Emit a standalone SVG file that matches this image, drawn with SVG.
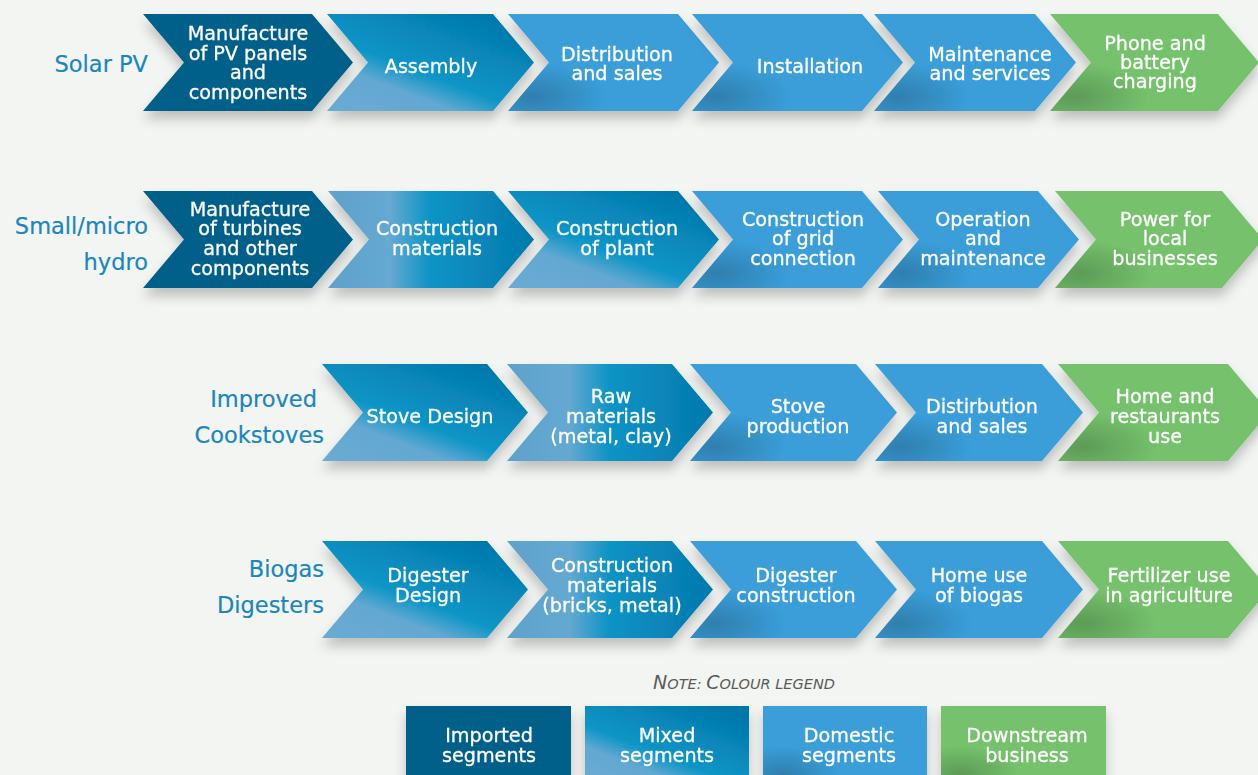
<svg xmlns="http://www.w3.org/2000/svg" width="1258" height="775" viewBox="0 0 1258 775">
<defs>
  <style>
    .imp{fill:#05608a}
    .dom{fill:#3a9ed9}
    .grn{fill:#74c16c}
    .mixD{fill:url(#mixD)}
    .mixH{fill:url(#mixH)}
    .shade{fill:url(#shade)}
    .t{font-family:"DejaVu Sans",sans-serif;font-size:19.2px;fill:#ffffff;stroke:#ffffff;stroke-width:0.3px;text-anchor:middle}
    .lbl{font-family:"DejaVu Sans",sans-serif;font-size:22.5px;fill:#1a86bd;stroke:#1a86bd;stroke-width:0.2px;text-anchor:end}
    .note{font-family:"DejaVu Sans",sans-serif;font-style:italic;fill:#5a5a5a;text-anchor:middle}
    .node{filter:url(#sh)}
  </style>
  <filter id="sh" x="-10%" y="-10%" width="130%" height="140%">
    <feDropShadow dx="0" dy="8" stdDeviation="6" flood-color="#000" flood-opacity="0.22"/>
  </filter>
  <linearGradient id="mixD" x1="0" y1="1" x2="0.8" y2="0">
    <stop offset="0" stop-color="#6aabd3"/>
    <stop offset="0.3" stop-color="#63a8d2"/>
    <stop offset="0.47" stop-color="#0a95c6"/>
    <stop offset="1" stop-color="#0477ab"/>
  </linearGradient>
  <linearGradient id="mixH" x1="0" y1="0" x2="1" y2="0">
    <stop offset="0" stop-color="#5ea2cc"/>
    <stop offset="0.3" stop-color="#65a9d2"/>
    <stop offset="0.5" stop-color="#0b93c5"/>
    <stop offset="1" stop-color="#0479ad"/>
  </linearGradient>
  <radialGradient id="shade" cx="0.12" cy="0.85" r="0.35">
    <stop offset="0" stop-color="#000" stop-opacity="0.2"/>
    <stop offset="1" stop-color="#000" stop-opacity="0"/>
  </radialGradient>
</defs>
<rect width="1258" height="775" fill="#f3f5f3"/>

<g id="row-labels">
  <text class="lbl" x="148" y="72">Solar PV</text>
  <text class="lbl" x="148" y="234">Small/micro</text>
  <text class="lbl" x="148" y="270">hydro</text>
  <text class="lbl" x="317" y="407">Improved</text>
  <text class="lbl" x="324" y="443">Cookstoves</text>
  <text class="lbl" x="324" y="577">Biogas</text>
  <text class="lbl" x="324" y="613">Digesters</text>
</g>

<g id="connectors"/>

<!-- Row 1: Solar PV -->
<g id="pv1" class="node"><path class="imp" d="M143,14 L312,14 L353,62.5 L312,111 L143,111 L184,62.5 Z"/>
  <text class="t"><tspan x="248" y="40">Manufacture</tspan><tspan x="248" y="59.5">of PV panels</tspan><tspan x="248" y="79">and</tspan><tspan x="248" y="98.5">components</tspan></text></g>
<g id="pv2" class="node"><path class="mixD" d="M327,14 L493,14 L534,62.5 L493,111 L327,111 L368,62.5 Z"/>
  <text class="t" x="431" y="73">Assembly</text></g>
<g id="pv3" class="node"><path class="dom" d="M508,14 L678,14 L719,62.5 L678,111 L508,111 L549,62.5 Z"/><path class="shade" d="M508,14 L678,14 L719,62.5 L678,111 L508,111 L549,62.5 Z"/>
  <text class="t"><tspan x="617" y="61">Distribution</tspan><tspan x="617" y="80">and sales</tspan></text></g>
<g id="pv4" class="node"><path class="dom" d="M692,14 L862,14 L903,62.5 L862,111 L692,111 L733,62.5 Z"/><path class="shade" d="M692,14 L862,14 L903,62.5 L862,111 L692,111 L733,62.5 Z"/>
  <text class="t" x="810" y="73">Installation</text></g>
<g id="pv5" class="node"><path class="dom" d="M874,14 L1035,14 L1076,62.5 L1035,111 L874,111 L915,62.5 Z"/><path class="shade" d="M874,14 L1035,14 L1076,62.5 L1035,111 L874,111 L915,62.5 Z"/>
  <text class="t"><tspan x="990" y="61">Maintenance</tspan><tspan x="990" y="80">and services</tspan></text></g>
<g id="pv6" class="node"><path class="grn" d="M1050,14 L1218,14 L1259,62.5 L1218,111 L1050,111 L1091,62.5 Z"/><path class="shade" d="M1050,14 L1218,14 L1259,62.5 L1218,111 L1050,111 L1091,62.5 Z"/>
  <text class="t"><tspan x="1155" y="50">Phone and</tspan><tspan x="1155" y="69">battery</tspan><tspan x="1155" y="88">charging</tspan></text></g>

<!-- Row 2: Small/micro hydro -->
<g id="hy1" class="node"><path class="imp" d="M143,191 L312,191 L353,239.5 L312,288 L143,288 L184,239.5 Z"/>
  <text class="t"><tspan x="250" y="215.5">Manufacture</tspan><tspan x="250" y="234.5">of turbines</tspan><tspan x="250" y="254.5">and other</tspan><tspan x="250" y="274.5">components</tspan></text></g>
<g id="hy2" class="node"><path class="mixH" d="M328,191 L493,191 L534,239.5 L493,288 L328,288 L369,239.5 Z"/>
  <text class="t"><tspan x="437" y="234.5">Construction</tspan><tspan x="437" y="254.5">materials</tspan></text></g>
<g id="hy3" class="node"><path class="mixD" d="M508,191 L678,191 L719,239.5 L678,288 L508,288 L549,239.5 Z"/>
  <text class="t"><tspan x="617" y="234.5">Construction</tspan><tspan x="617" y="254.5">of plant</tspan></text></g>
<g id="hy4" class="node"><path class="dom" d="M692,191 L862,191 L903,239.5 L862,288 L692,288 L733,239.5 Z"/><path class="shade" d="M692,191 L862,191 L903,239.5 L862,288 L692,288 L733,239.5 Z"/>
  <text class="t"><tspan x="803" y="225.5">Construction</tspan><tspan x="803" y="244.5">of grid</tspan><tspan x="803" y="264.5">connection</tspan></text></g>
<g id="hy5" class="node"><path class="dom" d="M878,191 L1038,191 L1079,239.5 L1038,288 L878,288 L919,239.5 Z"/><path class="shade" d="M878,191 L1038,191 L1079,239.5 L1038,288 L878,288 L919,239.5 Z"/>
  <text class="t"><tspan x="983" y="225.5">Operation</tspan><tspan x="983" y="244.5">and</tspan><tspan x="983" y="264.5">maintenance</tspan></text></g>
<g id="hy6" class="node"><path class="grn" d="M1055,191 L1222,191 L1263,239.5 L1222,288 L1055,288 L1096,239.5 Z"/><path class="shade" d="M1055,191 L1222,191 L1263,239.5 L1222,288 L1055,288 L1096,239.5 Z"/>
  <text class="t"><tspan x="1165" y="225.5">Power for</tspan><tspan x="1165" y="244.5">local</tspan><tspan x="1165" y="264.5">businesses</tspan></text></g>

<!-- Row 3: Improved Cookstoves -->
<g id="ck1" class="node"><path class="mixD" d="M322,364 L487,364 L528,412.5 L487,461 L322,461 L363,412.5 Z"/>
  <text class="t" x="430" y="422.5">Stove Design</text></g>
<g id="ck2" class="node"><path class="mixH" d="M507,364 L672,364 L713,412.5 L672,461 L507,461 L548,412.5 Z"/>
  <text class="t"><tspan x="611" y="402.5">Raw</tspan><tspan x="611" y="422.5">materials</tspan><tspan x="611" y="442.5">(metal, clay)</tspan></text></g>
<g id="ck3" class="node"><path class="dom" d="M690,364 L856,364 L897,412.5 L856,461 L690,461 L731,412.5 Z"/><path class="shade" d="M690,364 L856,364 L897,412.5 L856,461 L690,461 L731,412.5 Z"/>
  <text class="t"><tspan x="798" y="412.5">Stove</tspan><tspan x="798" y="432.5">production</tspan></text></g>
<g id="ck4" class="node"><path class="dom" d="M875,364 L1042,364 L1083,412.5 L1042,461 L875,461 L916,412.5 Z"/><path class="shade" d="M875,364 L1042,364 L1083,412.5 L1042,461 L875,461 L916,412.5 Z"/>
  <text class="t"><tspan x="982" y="412.5">Distirbution</tspan><tspan x="982" y="432.5">and sales</tspan></text></g>
<g id="ck5" class="node"><path class="grn" d="M1058,364 L1228,364 L1269,412.5 L1228,461 L1058,461 L1099,412.5 Z"/><path class="shade" d="M1058,364 L1228,364 L1269,412.5 L1228,461 L1058,461 L1099,412.5 Z"/>
  <text class="t"><tspan x="1165" y="402.5">Home and</tspan><tspan x="1165" y="422.5">restaurants</tspan><tspan x="1165" y="442.5">use</tspan></text></g>

<!-- Row 4: Biogas Digesters -->
<g id="bg1" class="node"><path class="mixD" d="M322,541 L487,541 L528,589.5 L487,638 L322,638 L363,589.5 Z"/>
  <text class="t"><tspan x="428" y="581.5">Digester</tspan><tspan x="428" y="601.5">Design</tspan></text></g>
<g id="bg2" class="node"><path class="mixH" d="M507,541 L672,541 L713,589.5 L672,638 L507,638 L548,589.5 Z"/>
  <text class="t"><tspan x="612" y="571.5">Construction</tspan><tspan x="612" y="591.5">materials</tspan><tspan x="612" y="611.5">(bricks, metal)</tspan></text></g>
<g id="bg3" class="node"><path class="dom" d="M690,541 L856,541 L897,589.5 L856,638 L690,638 L731,589.5 Z"/><path class="shade" d="M690,541 L856,541 L897,589.5 L856,638 L690,638 L731,589.5 Z"/>
  <text class="t"><tspan x="796" y="581.5">Digester</tspan><tspan x="796" y="601.5">construction</tspan></text></g>
<g id="bg4" class="node"><path class="dom" d="M875,541 L1042,541 L1083,589.5 L1042,638 L875,638 L916,589.5 Z"/><path class="shade" d="M875,541 L1042,541 L1083,589.5 L1042,638 L875,638 L916,589.5 Z"/>
  <text class="t"><tspan x="979" y="581.5">Home use</tspan><tspan x="979" y="601.5">of biogas</tspan></text></g>
<g id="bg5" class="node"><path class="grn" d="M1058,541 L1228,541 L1269,589.5 L1228,638 L1058,638 L1099,589.5 Z"/><path class="shade" d="M1058,541 L1228,541 L1269,589.5 L1228,638 L1058,638 L1099,589.5 Z"/>
  <text class="t"><tspan x="1169" y="581.5">Fertilizer use</tspan><tspan x="1169" y="601.5">in agriculture</tspan></text></g>

<!-- Legend -->
<g id="legend-note">
  <text class="note" x="744" y="689"><tspan font-size="19">N</tspan><tspan font-size="14.5">OTE: </tspan><tspan font-size="19">C</tspan><tspan font-size="14.5">OLOUR LEGEND</tspan></text>
</g>
<g id="leg-imported" class="node"><rect class="imp" x="406" y="706" width="165" height="80"/>
  <text class="t"><tspan x="489" y="741.5">Imported</tspan><tspan x="489" y="761.5">segments</tspan></text></g>
<g id="leg-mixed" class="node"><rect class="mixD" x="585" y="706" width="164" height="80"/>
  <text class="t"><tspan x="667" y="741.5">Mixed</tspan><tspan x="667" y="761.5">segments</tspan></text></g>
<g id="leg-domestic" class="node"><rect class="dom" x="763" y="706" width="164" height="80"/><rect class="shade" x="763" y="706" width="164" height="80"/>
  <text class="t"><tspan x="849" y="741.5">Domestic</tspan><tspan x="849" y="761.5">segments</tspan></text></g>
<g id="leg-downstream" class="node"><rect class="grn" x="941" y="706" width="165" height="80"/><rect class="shade" x="941" y="706" width="165" height="80"/>
  <text class="t"><tspan x="1027" y="741.5">Downstream</tspan><tspan x="1027" y="761.5">business</tspan></text></g>
</svg>
